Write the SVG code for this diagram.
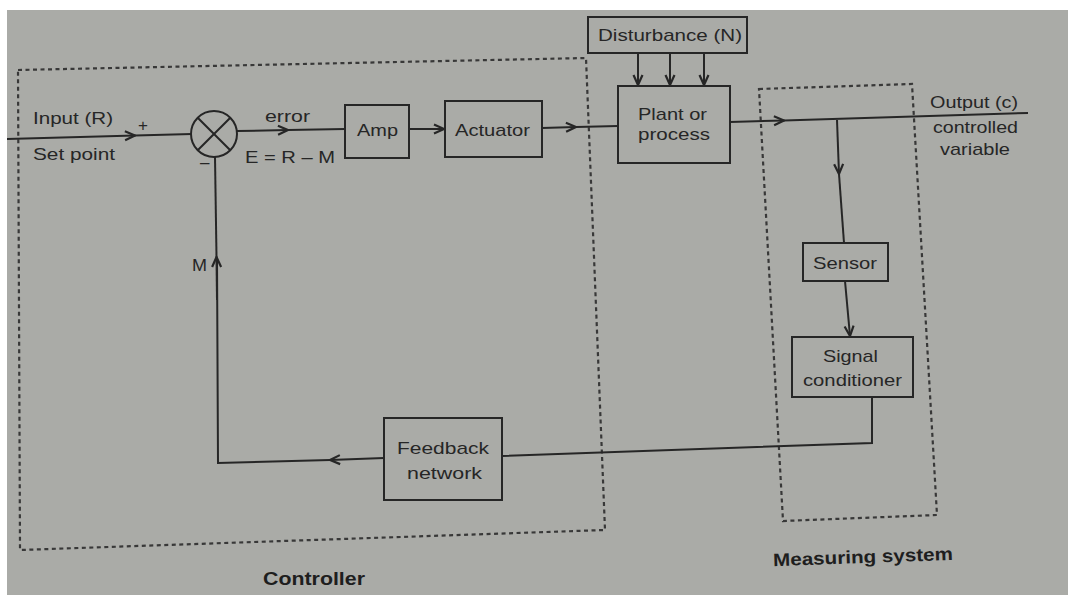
<svg xmlns="http://www.w3.org/2000/svg" width="1068" height="595" viewBox="0 0 1068 595">
<style>
.bg{fill:#ffffff}
.paper{fill:#aaaba7}
.box{fill:none;stroke:#262626;stroke-width:2}
.ln{fill:none;stroke:#262626;stroke-width:2}
.dash{fill:none;stroke:#383838;stroke-width:2.2;stroke-dasharray:4 3.5}
.t{font-family:"Liberation Sans",Arial,sans-serif;font-size:17px;fill:#262626}
.b{font-family:"Liberation Sans",Arial,sans-serif;font-size:18px;font-weight:bold;fill:#1e1e1e}
</style>
<defs>
<marker id="arr" viewBox="0 0 12 12" refX="11" refY="6" markerWidth="12" markerHeight="12" markerUnits="userSpaceOnUse" orient="auto">
<path d="M1,1.5 L11,6 L1,10.5" fill="none" stroke="#262626" stroke-width="2.2"/>
</marker>
</defs>
<rect class="bg" x="0" y="0" width="1068" height="595"/>
<rect class="paper" x="7" y="10" width="1061" height="585"/>

<g id="controller-boundary">
<polygon class="dash" points="18,70 586,58 605,530 20,550"/>
<text class="b" x="263" y="585" textLength="102" lengthAdjust="spacingAndGlyphs">Controller</text>
</g>
<g id="measuring-boundary">
<polygon class="dash" points="759,89 912,84 937,515 783,521"/>
<text class="b" x="773" y="563" textLength="180" lengthAdjust="spacingAndGlyphs" transform="rotate(-2 863 557)">Measuring system</text>
</g>

<g id="connectors">
<polyline class="ln" points="7,139 135,135.5" marker-end="url(#arr)"/>
<polyline class="ln" points="135,135.5 192,134"/>
<polyline class="ln" points="237,131 288,130" marker-end="url(#arr)"/>
<polyline class="ln" points="288,130 345,129"/>
<polyline class="ln" points="409,129 444,129" marker-end="url(#arr)"/>
<polyline class="ln" points="542,128 576,127" marker-end="url(#arr)"/>
<polyline class="ln" points="576,127 618,126"/>
<line class="ln" x1="638" y1="53" x2="638" y2="85" marker-end="url(#arr)"/>
<line class="ln" x1="670" y1="53" x2="670" y2="85" marker-end="url(#arr)"/>
<line class="ln" x1="704" y1="53" x2="704" y2="85" marker-end="url(#arr)"/>
<polyline class="ln" points="730,122 784,120.5" marker-end="url(#arr)"/>
<polyline class="ln" points="784,120.5 1028,113"/>
<polyline class="ln" points="837,120 839,174" marker-end="url(#arr)"/>
<polyline class="ln" points="839,174 844,243"/>
<polyline class="ln" points="845,281 850,336" marker-end="url(#arr)"/>
<polyline class="ln" points="872,397 872,443 502,456"/>
<polyline class="ln" points="384,458 330,460" marker-end="url(#arr)"/>
<polyline class="ln" points="330,460 218,463 217,258"/>
<polyline class="ln" points="217,300 216.5,257" marker-end="url(#arr)"/>
<polyline class="ln" points="216.5,257 215,157"/>
</g>

<g id="summing-junction">
<circle class="box" cx="214" cy="134" r="23"/>
<line class="ln" x1="197.7" y1="117.7" x2="230.3" y2="150.3"/>
<line class="ln" x1="230.3" y1="117.7" x2="197.7" y2="150.3"/>
<text class="t" x="138" y="131" font-size="16">+</text>
<text class="t" x="200" y="168" font-size="18">–</text>
</g>

<g id="input-labels">
<text class="t" x="33" y="124" textLength="80" lengthAdjust="spacingAndGlyphs">Input (R)</text>
<text class="t" x="33" y="160" textLength="82" lengthAdjust="spacingAndGlyphs">Set point</text>
<text class="t" x="265" y="122" textLength="45" lengthAdjust="spacingAndGlyphs">error</text>
<text class="t" x="245" y="163" textLength="90" lengthAdjust="spacingAndGlyphs">E = R – M</text>
<text class="t" x="192" y="271" textLength="15" lengthAdjust="spacingAndGlyphs">M</text>
</g>

<g id="amp">
<rect class="box" x="345" y="105" width="64" height="53"/>
<text class="t" x="357" y="136" textLength="41" lengthAdjust="spacingAndGlyphs">Amp</text>
</g>
<g id="actuator">
<rect class="box" x="445" y="101" width="97" height="56"/>
<text class="t" x="455" y="136" textLength="75" lengthAdjust="spacingAndGlyphs">Actuator</text>
</g>
<g id="disturbance">
<rect class="box" x="588" y="17" width="159" height="36"/>
<text class="t" x="598" y="41" textLength="144" lengthAdjust="spacingAndGlyphs">Disturbance (N)</text>
</g>
<g id="plant">
<rect class="box" x="618" y="86" width="112" height="77"/>
<text class="t" x="638" y="120" textLength="69" lengthAdjust="spacingAndGlyphs">Plant or</text>
<text class="t" x="638" y="140" textLength="72" lengthAdjust="spacingAndGlyphs">process</text>
</g>
<g id="output-labels">
<text class="t" x="930" y="108" textLength="88" lengthAdjust="spacingAndGlyphs">Output (c)</text>
<text class="t" x="933" y="133" textLength="85" lengthAdjust="spacingAndGlyphs">controlled</text>
<text class="t" x="940" y="155" textLength="70" lengthAdjust="spacingAndGlyphs">variable</text>
</g>
<g id="sensor">
<rect class="box" x="803" y="243" width="85" height="38"/>
<text class="t" x="813" y="269" textLength="64" lengthAdjust="spacingAndGlyphs">Sensor</text>
</g>
<g id="signal-conditioner">
<rect class="box" x="792" y="337" width="121" height="60"/>
<text class="t" x="823" y="362" textLength="55" lengthAdjust="spacingAndGlyphs">Signal</text>
<text class="t" x="803" y="386" textLength="99" lengthAdjust="spacingAndGlyphs">conditioner</text>
</g>
<g id="feedback-network">
<rect class="box" x="384" y="418" width="118" height="82"/>
<text class="t" x="397" y="454" textLength="92" lengthAdjust="spacingAndGlyphs">Feedback</text>
<text class="t" x="407" y="479" textLength="75" lengthAdjust="spacingAndGlyphs">network</text>
</g>
</svg>
